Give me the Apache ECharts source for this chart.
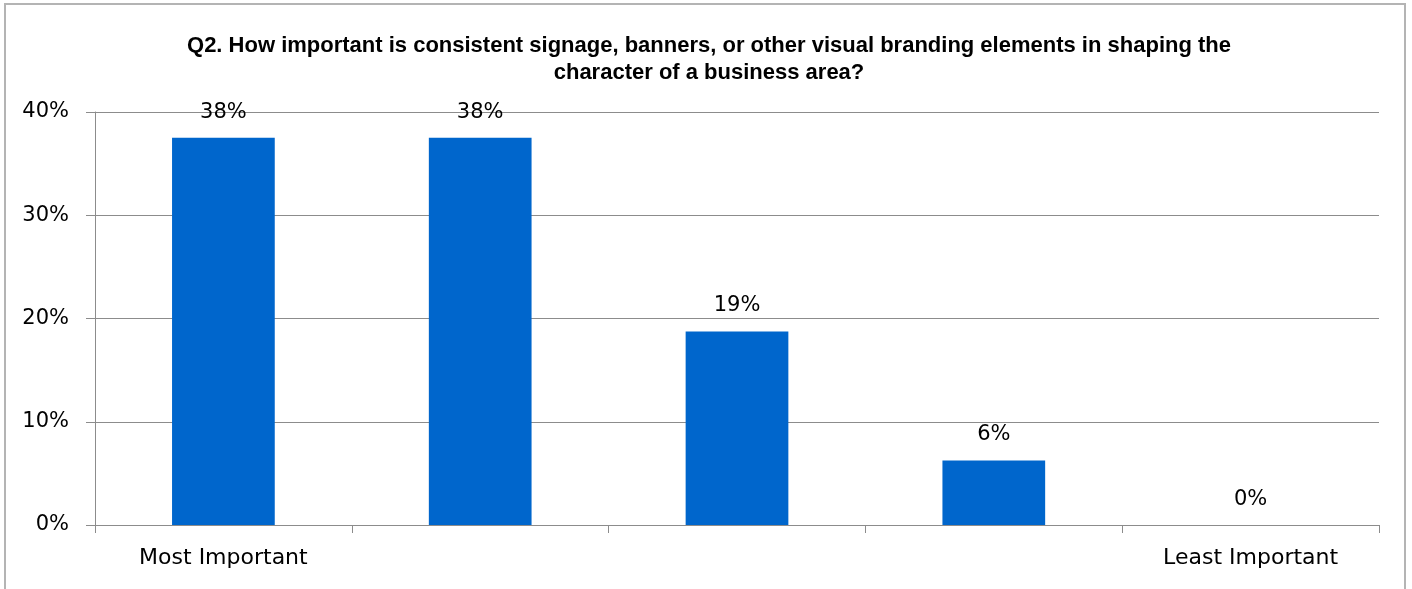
<!DOCTYPE html>
<html>
<head>
<meta charset="utf-8">
<script src="https://cdn.jsdelivr.net/npm/echarts@6/dist/echarts.min.js"></script>
<style>
html,body{margin:0;padding:0;background:#fff;}
#frame{position:absolute;left:4px;top:3px;width:1402px;height:620px;border:2px solid #b4b4b4;box-sizing:border-box;}
#chart{position:absolute;left:0;top:0;width:1412px;height:589px;}
</style>
</head>
<body>
<div id="frame"></div>
<div id="chart"></div>
<script>
const categories = ['Most Important', '', '', '', 'Least Important'];
const values = [37.5, 37.5, 18.75, 6.25, 0];
const yTicks = [0, 10, 20, 30, 40];
const titleText = 'Q2. How important is consistent signage, banners, or other visual branding elements in shaping the\ncharacter of a business area?';

const chart = echarts.init(document.getElementById('chart'), null, {renderer: 'canvas'});
chart.setOption({
  animation: false,
  title: {
    text: titleText,
    left: 704, top: 27, textAlign: 'center',
    textStyle: {fontFamily: 'Liberation Sans, Arial', fontWeight: 'bold', fontSize: 22, color: '#000', lineHeight: 27, align: 'center'}
  },
  grid: {left: 95, right: 33, top: 112, bottom: 64, containLabel: false},
  xAxis: {
    type: 'category',
    data: categories,
    axisLine: {lineStyle: {color: '#8c8c8c', width: 1}},
    axisTick: {show: true, length: 8, lineStyle: {color: '#8c8c8c'}},
    axisLabel: {color: '#000', fontSize: 22, fontFamily: 'DejaVu Sans, Liberation Sans', margin: 22, interval: 0}
  },
  yAxis: {
    type: 'value', min: yTicks[0], max: yTicks[yTicks.length-1], interval: 10,
    axisLine: {show: true, lineStyle: {color: '#8c8c8c', width: 1}},
    axisTick: {show: true, length: 9, lineStyle: {color: '#8c8c8c'}},
    splitLine: {lineStyle: {color: '#8c8c8c', width: 1}},
    axisLabel: {color: '#000', fontSize: 21, fontFamily: 'DejaVu Sans, Liberation Sans', margin: 26, formatter: v => v + '%'}
  },
  series: [{
    type: 'bar',
    data: values,
    barCategoryGap: '60%',
    itemStyle: {color: '#0066CC'},
    label: {show: true, position: 'top', distance: 15, color: '#000', fontSize: 21, fontFamily: 'DejaVu Sans, Liberation Sans',
      formatter: p => Math.round(p.value) + '%'}
  }]
});
</script>
</body>
</html>
